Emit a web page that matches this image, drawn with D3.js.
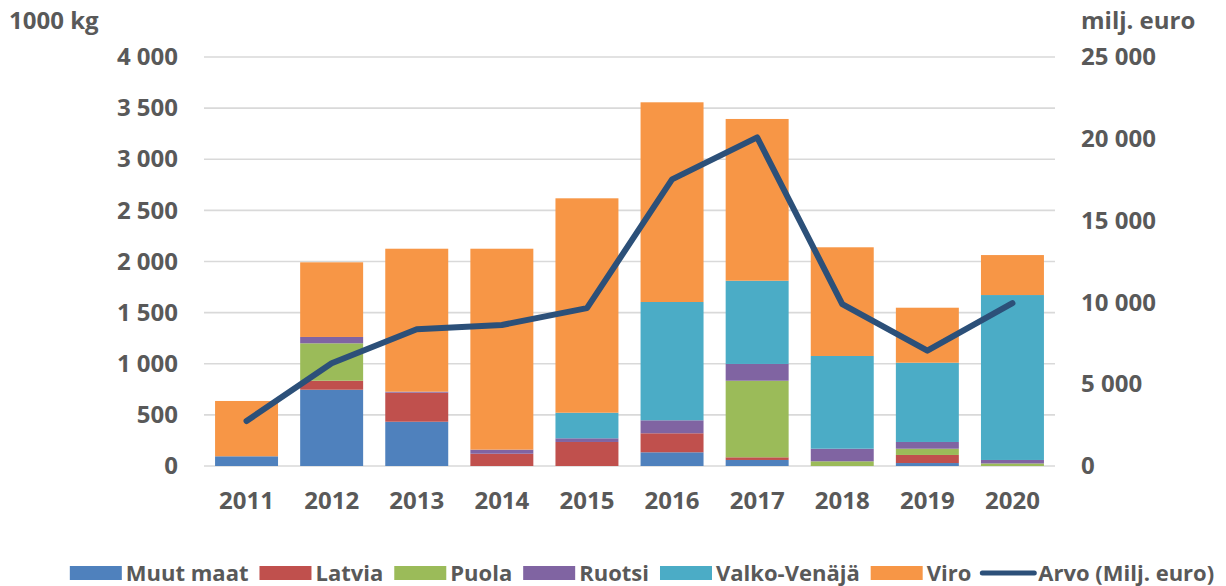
<!DOCTYPE html>
<html><head><meta charset="utf-8">
<script src="https://cdn.jsdelivr.net/npm/d3@7"></script>
<style>
html,body{margin:0;padding:0;background:#fff;}
svg text{font-family:"Open Sans",sans-serif;font-weight:bold;fill:#595959;}
</style></head>
<body><svg id="c" width="1226" height="586"></svg>
<script>
const years = ["2011","2012","2013","2014","2015","2016","2017","2018","2019","2020"];
const muutMaat   = [95, 746, 433, 0, 0, 134, 59, 0, 29, 0];
const latvia     = [0, 88, 284, 120, 235, 186, 26, 0, 79, 0];
const puola      = [0, 366, 0, 0, 0, 0, 749, 46, 61, 25];
const ruotsi     = [0, 62, 10, 40, 36, 127, 164, 123, 66, 34];
const valkoVenaja= [0, 0, 0, 0, 250, 1157, 814, 907, 775, 1613];
const viro       = [541, 730, 1398, 1965, 2097, 1953, 1582, 1063, 538, 391];
const arvo       = [2750, 6280, 8355, 8620, 9650, 17520, 20090, 9900, 7050, 9950];
const seriesNames = ["Muut maat","Latvia","Puola","Ruotsi","Valko-Venäjä","Viro"];
const lineName = "Arvo (Milj. euro)";
const leftTicks = [0,500,1000,1500,2000,2500,3000,3500,4000];
const rightTicks = [0,5000,10000,15000,20000,25000];
const colors = ["#4F81BD","#C0504D","#9BBB59","#8064A2","#4BACC6","#F79646"];
const lineColor = "#2C5079";

const seriesData = [muutMaat, latvia, puola, ruotsi, valkoVenaja, viro];
const rows = years.map((y,i)=>{const o={year:y}; seriesNames.forEach((n,k)=>o[n]=seriesData[k][i]); return o;});
const stacked = d3.stack().keys(seriesNames)(rows);

const svg = d3.select("#c");
const x = d3.scaleBand().domain(years).range([204,1055]).paddingInner(0.26).paddingOuter(0.13);
const yL = d3.scaleLinear().domain([0,4000]).range([466,57]);
const yR = d3.scaleLinear().domain([0,25000]).range([466,57]);
const fmt = v => d3.format(",")(v).replace(/,/g," ");

// gridlines
svg.append("g").selectAll("line").data(leftTicks).join("line")
  .attr("x1",204).attr("x2",1055).attr("y1",d=>yL(d)).attr("y2",d=>yL(d))
  .attr("stroke","#d9d9d9").attr("stroke-width",1.6);

// left axis
const axL = svg.append("g").attr("transform","translate(190,0)")
  .call(d3.axisLeft(yL).tickValues(leftTicks).tickFormat(fmt).tickSize(0).tickPadding(12));
axL.select(".domain").remove();
axL.selectAll("text").attr("font-size",24).attr("fill","#595959").attr("font-family","Open Sans").attr("font-weight","bold");

// right axis
const axR = svg.append("g").attr("transform","translate(1070,0)")
  .call(d3.axisRight(yR).tickValues(rightTicks).tickFormat(fmt).tickSize(0).tickPadding(11));
axR.select(".domain").remove();
axR.selectAll("text").attr("font-size",24).attr("fill","#595959").attr("font-family","Open Sans").attr("font-weight","bold");

// x axis
const axX = svg.append("g").attr("transform","translate(0,480)")
  .call(d3.axisBottom(x).tickSize(0).tickPadding(12));
axX.select(".domain").remove();
axX.selectAll("text").attr("font-size",24).attr("fill","#595959").attr("font-family","Open Sans").attr("font-weight","bold");

// bars
svg.append("g").selectAll("g").data(stacked).join("g").attr("fill",(d,i)=>colors[i])
  .selectAll("rect").data(d=>d).join("rect")
  .attr("x",d=>x(d.data.year)).attr("width",x.bandwidth())
  .attr("y",d=>yL(d[1])).attr("height",d=>yL(d[0])-yL(d[1]));

// line
const line = d3.line().x((d,i)=>x(years[i])+x.bandwidth()/2).y(d=>yR(d));
svg.append("path").datum(arvo).attr("d",line).attr("fill","none")
  .attr("stroke",lineColor).attr("stroke-width",6).attr("stroke-linecap","round").attr("stroke-linejoin","round");

// axis titles
svg.append("text").attr("x",9).attr("y",29).attr("font-size",24).text("1000 kg");
svg.append("text").attr("x",1081).attr("y",29).attr("font-size",24).text("milj. euro");

// legend
const leg = svg.append("g");
const items = seriesNames.map((n,i)=>({name:n,color:colors[i],type:"rect"})).concat([{name:lineName,color:lineColor,type:"line"}]);
let cx = 0;
const ly = 573;
items.forEach(it=>{
  const g = leg.append("g").attr("transform",`translate(${cx},0)`);
  if(it.type==="rect") g.append("rect").attr("x",0).attr("y",ly-7).attr("width",52).attr("height",14).attr("fill",it.color);
  else g.append("line").attr("x1",0).attr("x2",52).attr("y1",ly).attr("y2",ly).attr("stroke",it.color).attr("stroke-width",5).attr("stroke-linecap","round");
  const t = g.append("text").attr("x",56).attr("y",ly).attr("dy","0.35em").attr("font-size",22).text(it.name);
  cx += 56 + t.node().getComputedTextLength() + 11;
});
const total = cx - 11;
leg.attr("transform",`translate(${(66+1218)/2 - total/2},0)`);
</script></body></html>
